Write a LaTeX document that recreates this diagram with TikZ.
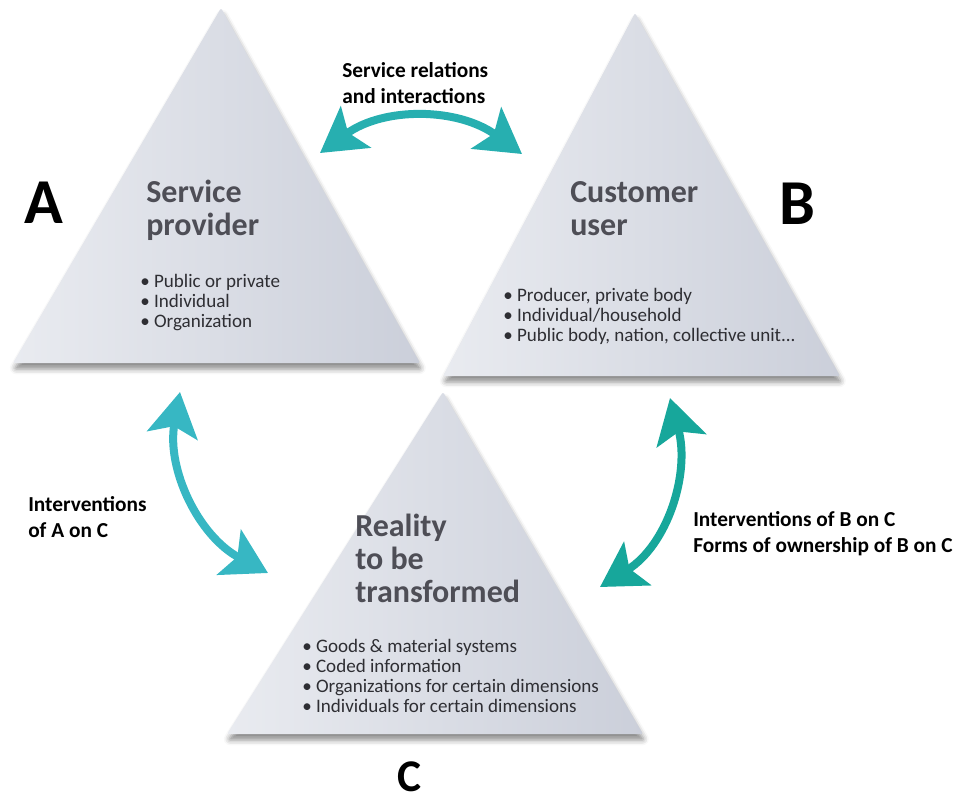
\documentclass[tikz,border=0pt]{standalone}
\usepackage{fontspec}
\setmainfont{Carlito}
\usetikzlibrary{arrows.meta,shadows.blur}

\definecolor{headgray}{HTML}{4E4E56}
\definecolor{itemgray}{HTML}{2E2E33}
\definecolor{triL}{HTML}{E9EBF0}
\definecolor{triR}{HTML}{CBCFDA}
\definecolor{tealA}{HTML}{37B7C3}
\definecolor{tealB}{HTML}{17A79B}
\definecolor{tealT}{HTML}{27AFB0}

\begin{document}
\begin{tikzpicture}[x=0.75pt,y=-0.75pt,
  tri/.style={left color=triL,right color=triR,rounded corners=1.5pt,
    blur shadow={shadow xshift=1pt,shadow yshift=-4.5pt,shadow blur radius=4pt,shadow opacity=45}},
  head/.style={anchor=base west,align=left,inner sep=0pt,text=headgray,
    font=\fontsize{24}{24.75}\selectfont\bfseries},
  items/.style={anchor=base west,align=left,inner sep=0pt,text=itemgray,
    font=\fontsize{14.3}{15}\selectfont},
  lbl/.style={anchor=base west,align=left,inner sep=0pt,
    font=\fontsize{16}{19.5}\selectfont\bfseries},
  letter/.style={anchor=base west,inner sep=0pt,font=\fontsize{48}{48}\selectfont\bfseries},
  link/.style={line width=6pt,
    {Stealth[length=33pt,width=38pt,inset=7pt]}-{Stealth[length=33pt,width=38pt,inset=7pt]}}]
\useasboundingbox (0,0) rectangle (967,801);

% the three triangles
\path[tri] (13,363) -- (221,8) -- (420,363) -- cycle;
\path[tri] (443,376) -- (635,13) -- (840,376) -- cycle;
\path[tri] (227,734) -- (443,392) -- (643,734) -- cycle;

% A: service provider (texts sit on their last line)
\node[letter] (A) at (24,223) {A};
\node[head] (provider) at (146,235) {Service\\provider};
\node[items] (provider-items) at (140,327) {• Public or private\\• Individual\\• Organization};

% B: customer
\node[letter] (B) at (779,224) {B};
\node[head] (customer) at (570,235) {Customer\\user};
\node[items] (customer-items) at (503,341) {• Producer, private body\\• Individual/household\\• Public body, nation, collective unit...};

% C: reality
\node[letter,font=\fontsize{34}{34}\selectfont\bfseries] (C) at (397,791) {C};
\node[head] (reality) at (355,602) {Reality\\to be\\transformed};
\node[items] (reality-items) at (302,712) {• Goods \& material systems\\• Coded information\\• Organizations for certain dimensions\\• Individuals for certain dimensions};

% relations
\node[lbl] (rel) at (342,103) {Service relations\\and interactions};
\node[lbl] (ac) at (28,537) {Interventions\\of A on C};
\node[lbl] (bc) at (693,552) {Interventions of B on C\\Forms of ownership of B on C};

\coordinate (rel-l) at (320,153);
\coordinate (rel-r) at (522,154);
\coordinate (ac-t) at (180,392);
\coordinate (ac-b) at (268,573);
\coordinate (bc-t) at (670,398);
\coordinate (bc-b) at (600,587);

\draw[link,tealT] (rel-l) to[out=36,in=144] (rel-r);
\draw[link,tealA] (ac-t) to[out=-100,in=152] (ac-b);
\draw[link,tealB] (bc-t) to[out=-75,in=32] (bc-b);
\end{tikzpicture}
\end{document}
